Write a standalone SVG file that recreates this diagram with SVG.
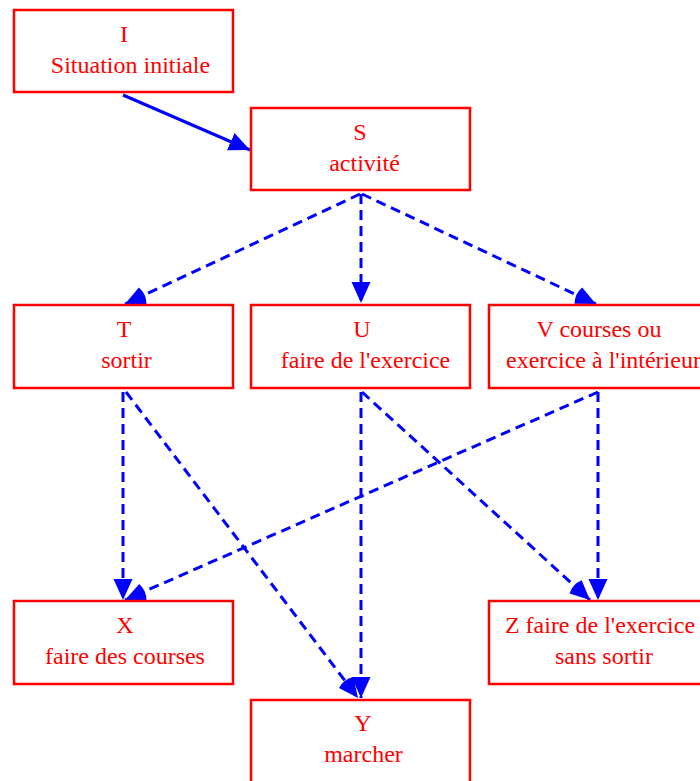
<svg xmlns="http://www.w3.org/2000/svg" width="700" height="781" viewBox="0 0 700 781">
<style>
.box{fill:#fff;stroke:#ff0000;stroke-width:2.5}
.t{font-family:"Liberation Serif","Times New Roman",serif;font-size:24px;fill:#ff0000;text-anchor:middle}
.e{fill:none;stroke:#0000ff;stroke-width:3}
.d{stroke-dasharray:10,6}
</style>
<defs>
<marker id="ah" markerUnits="userSpaceOnUse" markerWidth="22" markerHeight="20" refX="21" refY="9.5" orient="auto" viewBox="0 0 22 20">
<path d="M0,0 L21,9.5 L0,19 z" fill="#0000ff"/>
</marker>
<marker id="as" markerUnits="userSpaceOnUse" markerWidth="24" markerHeight="22" refX="22" refY="11" orient="auto" viewBox="0 0 24 22">
<path d="M22,11 L2.5,2 A21.5,21.5 0 0 0 2.5,20 Z" fill="#0000ff"/>
</marker>
</defs>
<rect width="700" height="781" fill="#fff"/>
<g id="connectors">
<line class="e" x1="123" y1="95" x2="250" y2="150" marker-end="url(#ah)"/>
<line class="e d" x1="360" y1="194" x2="125" y2="304" marker-end="url(#as)"/>
<line class="e d" x1="361" y1="194" x2="361" y2="303" marker-end="url(#ah)"/>
<line class="e d" x1="362" y1="194" x2="596" y2="304" marker-end="url(#as)"/>
<line class="e d" x1="123" y1="392" x2="123" y2="600" marker-end="url(#ah)"/>
<line class="e d" x1="126" y1="392" x2="358" y2="698" marker-end="url(#as)"/>
<line class="e d" x1="361" y1="392" x2="361" y2="698" marker-end="url(#ah)"/>
<line class="e d" x1="362" y1="392" x2="590" y2="600" marker-end="url(#as)"/>
<line class="e d" x1="598" y1="392" x2="125" y2="600" marker-end="url(#as)"/>
<line class="e d" x1="598" y1="392" x2="598" y2="600" marker-end="url(#ah)"/>
</g>
<g id="I"><rect class="box" x="14" y="10" width="219" height="82"/><text class="t" x="124" y="42">I</text><text class="t" x="130.5" y="73">Situation initiale</text></g>
<g id="S"><rect class="box" x="251" y="108" width="219" height="82"/><text class="t" x="360" y="140">S</text><text class="t" x="364.5" y="171">activité</text></g>
<g id="T"><rect class="box" x="14" y="305" width="219" height="83"/><text class="t" x="124" y="337">T</text><text class="t" x="126.5" y="368">sortir</text></g>
<g id="U"><rect class="box" x="251" y="305" width="219" height="83"/><text class="t" x="362" y="337">U</text><text class="t" x="365.5" y="368">faire de l'exercice</text></g>
<g id="V"><rect class="box" x="489" y="305" width="219" height="83"/><text class="t" x="599" y="337">V courses ou</text><text class="t" x="603.5" y="368">exercice à l'intérieur</text></g>
<g id="X"><rect class="box" x="14" y="601" width="219" height="83"/><text class="t" x="125" y="633">X</text><text class="t" x="125" y="664">faire des courses</text></g>
<g id="Z"><rect class="box" x="489" y="601" width="219" height="83"/><text class="t" x="600" y="633">Z faire de l'exercice</text><text class="t" x="604" y="664">sans sortir</text></g>
<g id="Y"><rect class="box" x="251" y="700" width="219" height="83"/><text class="t" x="363" y="731">Y</text><text class="t" x="363.5" y="762">marcher</text></g>
</svg>
